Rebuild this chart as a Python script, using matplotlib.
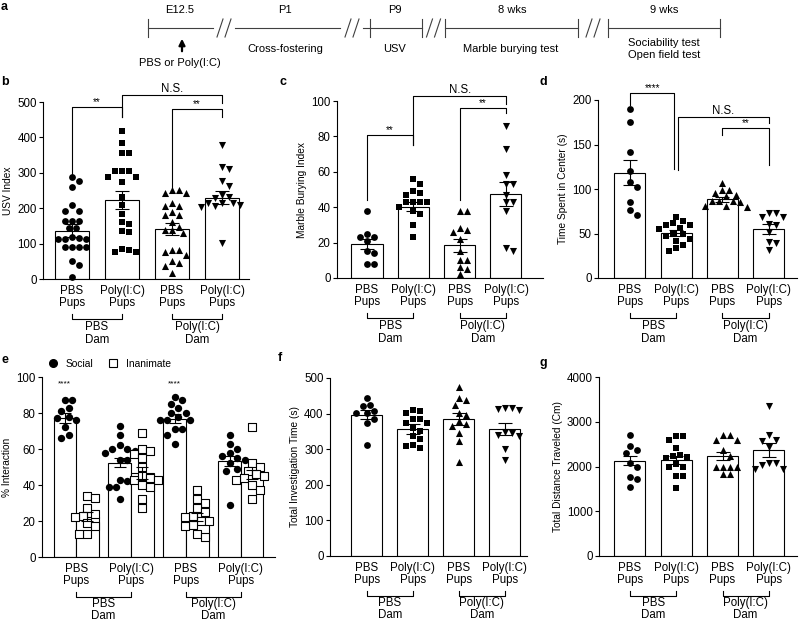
import matplotlib
matplotlib.use('Agg')
import matplotlib.pyplot as plt
import numpy as np
from matplotlib.lines import Line2D

plt.rcParams['font.family'] = ['Liberation Sans', 'DejaVu Sans']

# ---- data ----
tick_labels = ['PBS\nPups', 'Poly(I:C)\nPups', 'PBS\nPups', 'Poly(I:C)\nPups']
dam_labels = ['PBS\nDam', 'Poly(I:C)\nDam']
markers = ['o', 's', '^', 'v']

# b  USV index
usv = [
    [287, 277, 261, 208, 193, 193, 163, 163, 163, 144, 144, 118, 113, 113, 113, 116, 89, 89, 89, 89, 50, 39, 6],
    [419, 383, 355, 355, 304, 304, 304, 289, 288, 273, 233, 209, 183, 160, 155, 137, 134, 81, 76, 76, 85],
    [252, 242, 242, 252, 216, 205, 207, 181, 188, 181, 160, 148, 139, 130, 139, 83, 83, 69, 75, 52, 45, 36, 17],
    [379, 310, 315, 278, 263, 216, 210, 214, 214, 233, 228, 238, 203, 205, 103],
]
usv_mean = [137, 224, 140, 230]
usv_sem = [17, 25, 17, 19]

# c  marble burying
mb = [
    [38, 23, 23, 25, 21, 15, 8, 8, 14],
    [56, 53, 49, 48, 47, 43, 43, 43, 43, 38, 36, 30, 23, 40],
    [38, 38, 28, 27, 26, 22, 15, 10, 10, 6, 5, 2],
    [86, 73, 58, 53, 53, 47, 43, 43, 38, 17, 15],
]
mb_mean = [19.3, 40.3, 18.4, 47.5]
mb_sem = [2.7, 2.5, 3.8, 7.0]

# d  time in center
tc = [
    [190, 175, 142, 120, 108, 102, 85, 76, 71],
    [69, 64, 62, 60, 59, 55, 56, 50, 49, 47, 42, 44, 37, 34, 30],
    [107, 99, 99, 93, 95, 92, 86, 87, 85, 86, 81, 80, 81],
    [73, 68, 68, 73, 60, 61, 52, 40, 39, 31],
]
tc_mean = [118.5, 50.5, 88.6, 55]
tc_sem = [14.4, 3.4, 2.8, 5.5]

# e  % interaction
social = [
    [87, 87, 83, 81, 78, 77, 76, 72, 68, 66],
    [73, 68, 62, 60, 60, 59, 58, 54, 54, 42, 43, 39, 39, 32],
    [89, 87, 85, 83, 80, 80, 78, 76, 76, 76, 71, 71, 68, 63],
    [68, 63, 60, 58, 56, 55, 54, 52, 49, 48, 29],
]
inanimate = [
    [34, 33, 27, 24, 23, 22, 19, 17, 13, 13],
    [69, 60, 59, 57, 55, 50, 45, 44, 43, 43, 40, 39, 32, 27],
    [37, 32, 30, 27, 25, 23, 22, 20, 20, 18, 17, 13, 11],
    [72, 52, 50, 48, 46, 45, 44, 43, 40, 37, 32],
]
social_mean = [77, 52.4, 76.8, 53.5]
social_sem = [2.8, 2.5, 2.5, 2.7]
inan_mean = [22.3, 46.8, 22.3, 46]
inan_sem = [2.5, 3.2, 2.3, 2.5]

# f  total investigation time
tit = [
    [444, 425, 420, 406, 403, 401, 385, 375, 312],
    [411, 406, 401, 385, 385, 375, 373, 359, 350, 336, 328, 312, 310, 303],
    [475, 444, 437, 425, 403, 397, 378, 371, 366, 345, 322, 263],
    [417, 417, 413, 411, 348, 345, 340, 338, 300, 270],
]
tit_mean = [397, 357, 385, 357]
tit_sem = [12, 13, 17, 18]

# g  total distance
dist = [
    [2710, 2450, 2360, 2300, 2080, 2000, 1760, 1720, 1550],
    [2680, 2680, 2600, 2410, 2260, 2240, 2210, 2200, 2060, 2000, 2000, 1790, 1780, 1530],
    [2710, 2710, 2600, 2600, 2360, 2240, 2000, 2000, 2000, 1990, 1840, 1840],
    [3360, 2710, 2600, 2580, 2430, 2070, 2040, 2070, 1940, 1940],
]
dist_mean = [2134, 2148, 2238, 2372]
dist_sem = [105, 90, 97, 150]

W, H = 800, 622
fig = plt.figure(figsize=(8, 6.22), dpi=100)

# overlay in pixel coords for the timeline and panel letters
ax0 = fig.add_axes([0, 0, 1, 1])
ax0.set_xlim(0, W)
ax0.set_ylim(H, 0)
ax0.axis('off')


def add_ax(left, top, right, bottom):
    return fig.add_axes([left / W, 1 - bottom / H, (right - left) / W, (bottom - top) / H])


def style(ax, xlim, ylim, yticks, ylabel, xt):
    ax.set_xlim(xlim)
    ax.set_ylim(ylim)
    ax.set_yticks(yticks)
    for s in ['top', 'right']:
        ax.spines[s].set_visible(False)
    for s in ['left', 'bottom']:
        ax.spines[s].set_linewidth(0.8)
    ax.tick_params(axis='y', length=3, width=0.8, labelsize=8.3, pad=1.5)
    ax.tick_params(axis='x', length=0, labelsize=8.3, pad=4)
    ax.set_xticks(xt)
    ax.set_xticklabels(tick_labels, linespacing=1.1)
    ax.set_ylabel(ylabel, fontsize=7.3, labelpad=3)


def swarm(ax, x0, vals, d):
    # simple beeswarm: spread equal-ish values sideways so markers don't overlap
    vals = np.asarray(vals, float)
    pts = ax.transData.transform(np.column_stack([np.full(len(vals), x0), vals]))
    order = np.argsort(-vals)
    placed = []
    xs = np.zeros(len(vals))
    for i in order:
        px, py = pts[i]
        off = 0
        for k in range(60):
            cands = [0.0] if k == 0 else [k * d / 2, -k * d / 2]
            found = None
            for c in cands:
                if all((px + c - qx) ** 2 + (py - qy) ** 2 >= d * d for qx, qy in placed):
                    found = c
                    break
            if found is not None:
                off = found
                break
        placed.append((px + off, py))
        xs[i] = px + off
    return ax.transData.inverted().transform(np.column_stack([xs, pts[:, 1]]))[:, 0]


def dam(ax, centers, ls=1.1, ty=42):
    h = ax.get_window_extent().height
    tr = ax.get_xaxis_transform()
    for (a, b), lab in zip([(centers[0], centers[1]), (centers[2], centers[3])], dam_labels):
        ax.plot([a, a, b, b], [-35 / h, -40 / h, -40 / h, -35 / h], color='black', lw=0.8,
                transform=tr, clip_on=False)
        ax.text((a + b) / 2, -ty / h, lab, transform=tr, ha='center', va='top',
                fontsize=8.3, linespacing=ls)


def sig(ax, x0, x1, top, yl, yr, label, fs=7):
    ax.plot([x0, x0, x1, x1], [yl, top, top, yr], color='black', lw=0.8, clip_on=False)
    ax.text((x0 + x1) / 2, top, label, ha='center', va='bottom', fontsize=fs)


def bar_panel(ax, groups, means, sems, width):
    x = np.arange(4)
    ax.bar(x, means, width=width, color='white', edgecolor='black', linewidth=0.8, zorder=1)
    sizes = {'o': 24, 's': 20, '^': 26, 'v': 26}
    for i, vals in enumerate(groups):
        xs = swarm(ax, i, vals, 7)
        ax.scatter(xs, vals, marker=markers[i], s=sizes[markers[i]], c='black',
                   linewidths=0, zorder=2, clip_on=False)
    ax.errorbar(x, means, yerr=sems, fmt='none', ecolor='black', elinewidth=0.8,
                capsize=5, capthick=0.8, zorder=3)


centers = np.arange(4)

# ---- b ----
axb = add_ax(43, 102, 249, 279)
style(axb, (-0.58, 3.54), (0, 500), range(0, 501, 100), 'USV Index', centers)
bar_panel(axb, usv, usv_mean, usv_sem, 0.68)
dam(axb, centers)
sig(axb, 0, 1, 485, 289, 459, '**')
sig(axb, 1, 3, 520, 459, 496, 'N.S.', 8.3)
sig(axb, 2, 3, 479, 257, 459, '**')

# ---- c ----
axc = add_ax(337, 101, 543, 278)
style(axc, (-0.648, 3.80), (0, 100), range(0, 101, 20), 'Marble Burying Index', centers)
bar_panel(axc, mb, mb_mean, mb_sem, 0.67)
dam(axc, centers)
sig(axc, 0, 1, 81, 44, 75, '**')
sig(axc, 1, 3, 102.6, 75, 98.5, 'N.S.', 8.3)
sig(axc, 2, 3, 96, 44, 93, '**')

# ---- d ----
axd = add_ax(598, 100, 797, 278)
style(axd, (-0.69, 3.61), (0, 200), range(0, 201, 50), 'Time Spent in Center (s)', centers)
bar_panel(axd, tc, tc_mean, tc_sem, 0.67)
dam(axd, centers)
sig(axd, 0, 0.96, 208, 194, 122, '****')
sig(axd, 1.04, 3, 180.5, 121, 174, 'N.S.', 8.3)
sig(axd, 2, 3, 169, 161, 127, '**')

# ---- e ----
axe = add_ax(42, 377, 275, 557)
style(axe, (-0.62, 3.62), (0, 100), range(0, 101, 20), '% Interaction', centers)
off = 0.205
axe.bar(centers - off, social_mean, width=0.41, color='white', edgecolor='black', linewidth=0.8, zorder=1)
axe.bar(centers + off, inan_mean, width=0.41, color='white', edgecolor='black', linewidth=0.8, zorder=1)
for i in range(4):
    xs = swarm(axe, i - off, social[i], 7.5)
    axe.scatter(xs, social[i], marker='o', s=28, c='black', linewidths=0, zorder=2)
    xs = swarm(axe, i + off, inanimate[i], 8)
    axe.scatter(xs, inanimate[i], marker='s', s=30, facecolors='white', edgecolors='black',
                linewidths=0.8, zorder=2)
axe.errorbar(centers - off, social_mean, yerr=social_sem, fmt='none', ecolor='black',
             elinewidth=0.8, capsize=4.5, capthick=0.8, zorder=3)
axe.errorbar(centers + off, inan_mean, yerr=inan_sem, fmt='none', ecolor='black',
             elinewidth=0.8, capsize=4.5, capthick=0.8, zorder=3)
dam(axe, centers, ls=1.0, ty=41)
for g in [0, 2]:
    axe.text(g - off, 96, '****', ha='center', va='center', fontsize=6)
h1 = Line2D([], [], marker='o', ls='none', color='black', markersize=5.5)
h2 = Line2D([], [], marker='s', ls='none', markerfacecolor='white', markeredgecolor='black',
            markersize=6, markeredgewidth=0.8)
axe.legend([h1, h2], ['Social', 'Inanimate'], ncol=2, frameon=False, fontsize=7.4,
           loc='center left', bbox_to_anchor=(0.026, 1.072), handlelength=1,
           handletextpad=0.7, columnspacing=1.45, borderpad=0, borderaxespad=0)

# ---- f ----
axf = add_ax(330, 378, 527, 556)
style(axf, (-0.80, 3.48), (0, 500), range(0, 501, 100), 'Total Investigation Time (s)', centers)
bar_panel(axf, tit, tit_mean, tit_sem, 0.67)
dam(axf, centers, ls=1.0, ty=41)

# ---- g ----
axg = add_ax(599, 377, 797, 556)
style(axg, (-0.67, 3.61), (0, 4000), range(0, 4001, 1000), 'Total Distance Traveled (Cm)', centers)
bar_panel(axg, dist, dist_mean, dist_sem, 0.67)
dam(axg, centers, ls=1.0, ty=41)

# ---- a: timeline ----
tl_y = 28
tl_segments = [(148, 213), (235, 340), (363, 422), (445, 578), (608, 720)]
tl_ticks = [148, 370, 422, 445, 578, 608, 720]
tl_breaks = [224, 352, 433.5, 593]
tl_top = [('E12.5', 180), ('P1', 285), ('P9', 395), ('8 wks', 512), ('9 wks', 664)]
tl_bottom = [('Cross-fostering', 285), ('USV', 395), ('Marble burying test', 511),
             ('Sociability test\nOpen field test', 664)]
lc = '0.25'
for a, b in tl_segments:
    ax0.plot([a, b], [tl_y, tl_y], color=lc, lw=0.8)
for t in tl_ticks:
    ax0.plot([t, t], [19, 37], color=lc, lw=0.8)
for c in tl_breaks:
    for dx in (-4, 4):
        ax0.plot([c + dx - 3, c + dx + 3], [37, 19], color=lc, lw=0.8)
for lab, xx in tl_top:
    ax0.text(xx, 10, lab, ha='center', va='center', fontsize=8)
for lab, xx in tl_bottom:
    ax0.text(xx, 49, lab, ha='center', va='center', fontsize=8, linespacing=1.15)
ax0.annotate('', xy=(182, 36), xytext=(182, 54),
             arrowprops=dict(arrowstyle='-|>', lw=1.6, color='black', mutation_scale=9))
ax0.text(180, 63, 'PBS or Poly(I:C)', ha='center', va='center', fontsize=8)

for lab, xx, yy in [('a', 1, 7), ('b', 1, 82), ('c', 280, 82), ('d', 540, 82),
                    ('e', 1, 360), ('f', 278, 358), ('g', 540, 363)]:
    ax0.text(xx, yy, lab, ha='left', va='center', fontsize=9, fontweight='bold')

fig.savefig('out.png', dpi=100)
